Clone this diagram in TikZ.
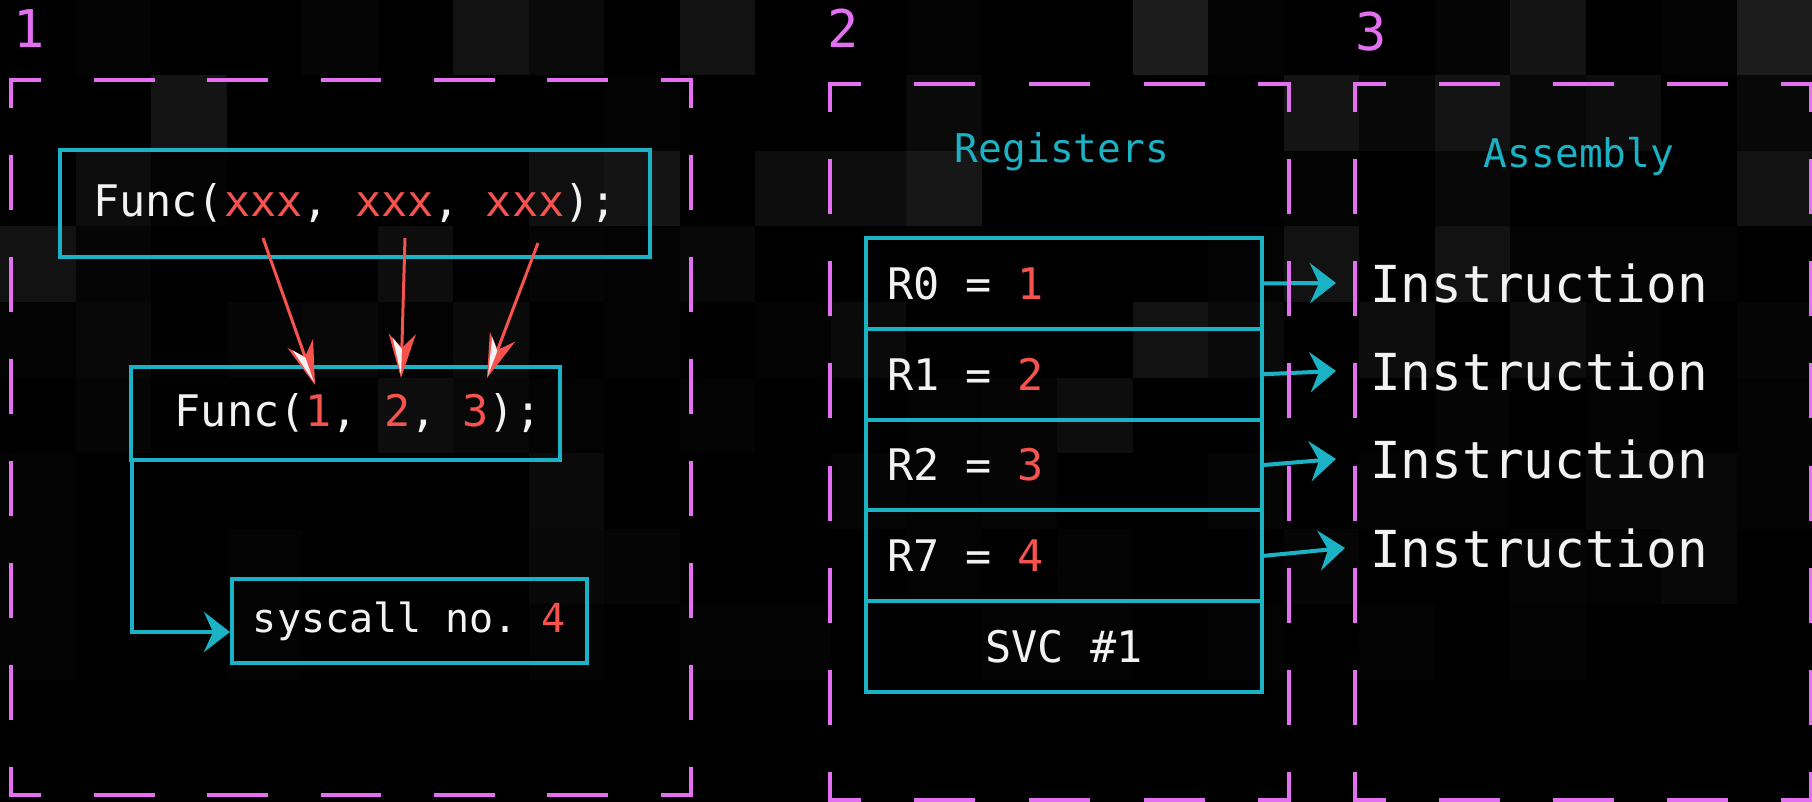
\documentclass[tikz,border=0pt]{standalone}
\usepackage{fontspec}
\setmonofont{DejaVu Sans Mono}
\usetikzlibrary{arrows.meta,calc}
\definecolor{framepink}{RGB}{226,112,240}
\definecolor{wire}{RGB}{26,178,196}
\definecolor{argred}{RGB}{246,82,78}
\definecolor{codewhite}{RGB}{242,242,242}
\newcommand\codesize[1]{\fontsize{#1pt}{#1pt}\selectfont\ttfamily\frenchspacing
  \spaceskip=0.602em\relax\xspaceskip=0.602em\relax}
\newcommand\val[1]{\textcolor{argred}{#1}}
\newcommand\regtext[1]{\makebox[354pt][l]{#1}}

\begin{document}
\begin{tikzpicture}[x=1pt,y=-1pt,
  fside/.style n args={3}{draw=framepink, line width=4pt, line cap=rect,
    dash pattern=on #1pt off #2pt, dash phase=#3pt},
  codebox/.style={draw=wire, line width=4pt, inner sep=0pt, text=codewhite},
  regcell/.style={codebox, minimum width=396pt, minimum height=90.8pt,
    font=\codesize{43.5}},
  heading/.style={text=wire, inner sep=0pt, anchor=base, font=\codesize{39.5}},
  instr/.style={text=codewhite, inner sep=0pt, anchor=base west, font=\codesize{51}},
  panelno/.style={text=framepink, inner sep=0pt, font=\codesize{52}},
  feed/.style={draw=argred, line width=3pt,
    -{Stealth[length=44pt, width=27pt, inset=14pt, fill=argred]}},
  gleam/.style={draw=codewhite, line width=0.1pt, shorten >=3pt,
    -{Stealth[length=37pt, width=19pt, inset=11pt, right, fill=codewhite, line width=0pt]}},
  link/.style={draw=wire, line width=4pt, -{Stealth[length=26pt, width=40pt, inset=9pt]}},
]
\useasboundingbox (0,0) rectangle (1812,802);
\fill[black] (0,0) rectangle (1812,802);

% dim mosaic backdrop, fading towards the bottom
\pgfmathsetseed{42}
\foreach \i in {0,...,23}{
  \foreach \j in {0,...,10}{
    \pgfmathsetmacro{\r}{rnd}
    \pgfmathtruncatemacro{\g}{\r*\r*\r*max(0,13-1.4*\j)}
    \fill[white!\g!black] ({\i*75.5},{\j*75.5}) rectangle ++(75.5,75.5);
  }
}

% panel numbers
\node[panelno] (p1) at (29,29) {1};
\node[panelno] (p2) at (843,28) {2};
\node[panelno] (p3) at (1371,32) {3};

% panel 1: call with placeholders, call with values, syscall number
\node[codebox, minimum width=590pt, minimum height=107pt, font=\codesize{43.5}]
  (call) at (355,203.5) {Func(\val{xxx}, \val{xxx}, \val{xxx});};
\node[codebox, minimum width=429pt, minimum height=93pt, font=\codesize{43.5}]
  (lit) at (345.5,413.5) {\hspace{25pt}Func(\val{1}, \val{2}, \val{3});};
\node[codebox, minimum width=355pt, minimum height=84pt, font=\codesize{40}]
  (sysno) at (409.5,621) {syscall no. \val{4}};

\coordinate (x1) at (263,238);
\coordinate (x2) at (405,238);
\coordinate (x3) at (538,243);
\coordinate (v1) at (315,385);
\coordinate (v2) at (401,378);
\coordinate (v3) at (487,378);
\foreach \k in {1,2,3}{
  \draw[feed] (x\k) -- (v\k);
  \draw[gleam] ($(x\k)!0.9!(v\k)$) -- (v\k);
}

\draw[link] ([xshift=3pt]lit.south west) |- ([yshift=-11pt]sysno.west);

% panel 2: register table
\node[heading] (regs) at (1062,163) {Registers};
\node[regcell] (r0) at (1064,283.4) {\regtext{R0 = \val{1}}};
\node[regcell] (r1) at (1064,374.2) {\regtext{R1 = \val{2}}};
\node[regcell] (r2) at (1064,465.0) {\regtext{R2 = \val{3}}};
\node[regcell] (r3) at (1064,555.8) {\regtext{R7 = \val{4}}};
\node[regcell] (svc) at (1064,646.6) {SVC \#1};

% panel 3: assembly
\node[heading] (asm) at (1579,168) {Assembly};
\node[instr] (i0) at (1370,302) {Instruction};
\node[instr] (i1) at (1370,390) {Instruction};
\node[instr] (i2) at (1370,478) {Instruction};
\node[instr] (i3) at (1370,567) {Instruction};

\draw[link] (r0.east) -- ([xshift=-34pt]i0.west);
\draw[link] (r1.east) -- ([xshift=-34pt]i1.west);
\draw[link] (r2.east) -- ([xshift=-34pt]i2.west);
\draw[link] (r3.east) -- ([xshift=-25pt]i3.west);

% dashed panel frames
\draw[fside={56.67}{56.67}{28.33}] (11,80) -- (691,80);
\draw[fside={56.67}{56.67}{28.33}] (11,795) -- (691,795);
\draw[fside={51.07}{51.07}{25.54}] (11,80) -- (11,795);
\draw[fside={51.07}{51.07}{25.54}] (691,80) -- (691,795);

\draw[fside={57.38}{57.38}{28.69}] (830,84) -- (1289,84);
\draw[fside={57.38}{57.38}{28.69}] (830,800) -- (1289,800);
\draw[fside={51.14}{51.14}{25.57}] (830,84) -- (830,800);
\draw[fside={51.14}{51.14}{25.57}] (1289,84) -- (1289,800);

\draw[fside={57}{57}{28.5}] (1355,84) -- (1811,84);
\draw[fside={57}{57}{28.5}] (1355,800) -- (1811,800);
\draw[fside={51.14}{51.14}{25.57}] (1355,84) -- (1355,800);
\draw[fside={51.14}{51.14}{25.57}] (1811,84) -- (1811,800);
\end{tikzpicture}
\end{document}
